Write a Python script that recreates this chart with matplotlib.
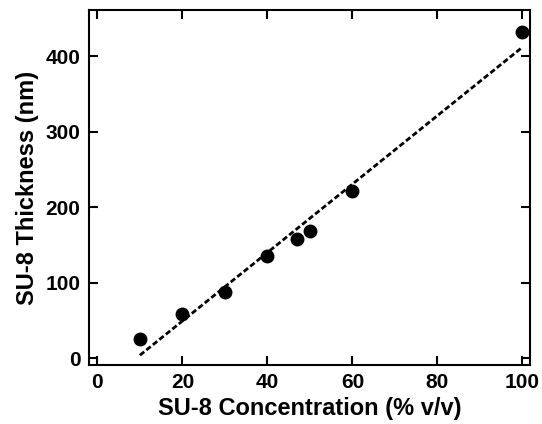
import matplotlib.pyplot as plt

plt.rcParams['font.family'] = ['Liberation Sans', 'DejaVu Sans']
plt.rcParams['font.weight'] = 'bold'

# Measured film thickness vs SU-8 concentration
konsentrasi = [10, 20, 30, 40, 47, 50, 60, 100]
ketebalan = [25, 58, 88, 135, 158, 169, 222, 432]

# Linear fit line endpoints
fit_x = [10, 100]
fit_y = [4, 412]

fig = plt.figure(figsize=(5.42, 4.24), dpi=100)
ax = fig.add_axes([0.164, 0.139, 0.814, 0.837])

ax.plot(fit_x, fit_y, color='black', lw=2, linestyle=(0, (2, 1)))
ax.plot(konsentrasi, ketebalan, 'o', color='black', markersize=9)

ax.set_xlim(-2, 101.8)
ax.set_ylim(-9, 461)
ax.set_xticks([0, 20, 40, 60, 80, 100])
ax.set_yticks([0, 100, 200, 300, 400])

ax.tick_params(direction='in', top=True, right=True, length=6.5, width=1.5,
               labelsize=15, pad=6)
for sp in ax.spines.values():
    sp.set_linewidth(1.5)

ax.set_xlabel('SU-8 Concentration (% v/v)', fontsize=17, fontweight='bold', labelpad=3)
ax.set_ylabel('SU-8 Thickness (nm)', fontsize=17, fontweight='bold', labelpad=5)

fig.savefig('out.png', dpi=100)
